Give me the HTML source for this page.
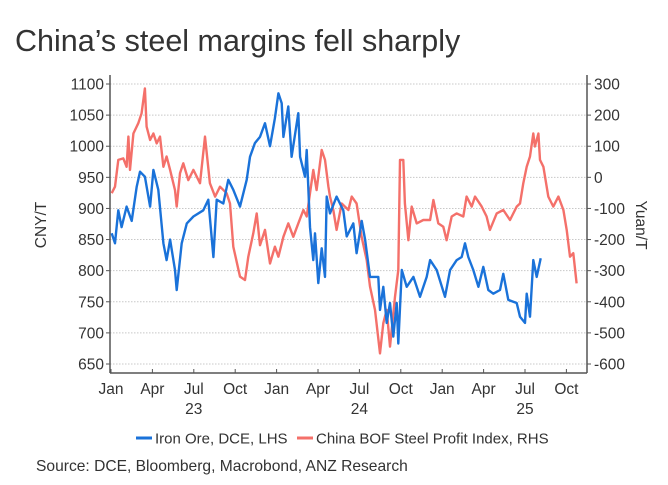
<!DOCTYPE html>
<html><head><meta charset="utf-8"><style>
body{margin:0;background:#fff;width:668px;height:485px;overflow:hidden;font-family:"Liberation Sans",sans-serif}
svg{display:block}
text{font-family:"Liberation Sans",sans-serif;fill:#333}
</style></head><body>
<svg id="c" width="668" height="485">
<text x="15" y="51" font-size="30.5" fill="#333">China’s steel margins fell sharply</text>
<text x="36" y="471" font-size="15.6">Source: DCE, Bloomberg, Macrobond, ANZ Research</text>
</svg>
<script>
const leftTicks=[650,700,750,800,850,900,950,1000,1050,1100];
const rightTicks=[-600,-500,-400,-300,-200,-100,0,100,200,300];
const xTickLabels=["Jan","Apr","Jul","Oct","Jan","Apr","Jul","Oct","Jan","Apr","Jul","Oct"];
const yearLabels=["23","24","25"];
const oreMonths=[0.05,0.29,0.53,0.77,1.13,1.5,1.86,2.1,2.46,2.83,3.07,3.43,3.8,4.03,4.28,4.64,4.76,5.12,5.49,5.97,6.69,7.05,7.42,7.66,8.14,8.5,8.86,9.35,9.83,10.07,10.43,10.8,11.16,11.52,11.88,12.13,12.37,12.49,12.85,13.09,13.57,13.7,14.06,14.18,14.42,14.66,14.78,15.02,15.27,15.51,15.63,15.87,16.35,16.83,17.08,17.56,17.8,18.17,18.41,18.77,19.01,19.37,19.49,19.73,19.98,20.22,20.46,20.7,20.82,21.07,21.43,21.91,22.39,22.88,23.12,23.6,24.2,24.57,25.05,25.41,25.65,25.89,26.25,26.62,26.98,27.34,27.7,28.19,28.43,28.79,29.4,29.64,30,30.12,30.36,30.6,30.85,31.14];
const oreValues=[860,844,897,870,903,880,935,959,951,903,962,930,844,817,850,801,769,844,876,887,897,914,822,914,908,946,930,903,946,983,1005,1015,1037,1000,1045,1085,1069,1015,1064,983,1053,983,951,994,870,817,860,780,836,790,919,892,919,897,855,876,828,880,850,790,790,790,737,774,716,748,694,748,683,801,774,790,758,790,817,801,758,801,817,822,844,822,801,774,806,769,763,769,795,753,748,726,716,763,726,817,790,820];
const profitMonths=[0.05,0.29,0.53,0.89,1.13,1.26,1.38,1.62,1.98,2.22,2.46,2.58,2.83,3.07,3.31,3.55,3.8,4.03,4.28,4.64,4.76,5,5.24,5.6,5.97,6.45,6.81,7.17,7.54,7.9,8.38,8.62,8.86,9.35,9.71,9.95,10.31,10.56,10.8,11.16,11.52,11.88,12.13,12.49,12.85,13.21,13.57,13.94,14.18,14.42,14.66,14.9,15.27,15.51,15.75,15.87,16.11,16.35,16.72,17.2,17.44,17.8,18.16,18.53,18.77,19.13,19.49,19.73,19.98,20.22,20.58,20.82,20.94,21.18,21.3,21.55,21.79,22.15,22.63,23.12,23.36,23.72,24.08,24.32,24.69,25.05,25.53,25.77,26.14,26.38,26.86,27.22,27.46,27.95,28.43,28.91,29.4,29.64,29.88,30.12,30.36,30.6,30.72,30.97,31.09,31.33,31.69,32.05,32.42,32.78,33.02,33.26,33.5,33.74];
const profitValues=[-51,-30,56,61,34,131,24,141,174,206,286,163,120,141,109,131,34,67,24,-41,-94,13,45,-9,24,-19,131,-19,-62,-30,-51,-84,-223,-319,-330,-255,-180,-116,-218,-169,-277,-223,-255,-191,-148,-191,-148,-105,-126,-51,24,-41,88,56,-30,-62,-105,-169,-84,-105,-62,-84,-191,-266,-351,-426,-566,-469,-426,-544,-384,-298,56,56,-84,-202,-94,-148,-137,-137,-73,-148,-159,-202,-126,-116,-126,-62,-94,-62,-94,-126,-169,-116,-105,-137,-94,-84,-19,34,67,141,99,141,56,34,-62,-94,-62,-105,-169,-255,-244,-341];

const NS="http://www.w3.org/2000/svg";
const svg=document.getElementById('c');
const X0=111,PXM=13.8,L=110,R=587,TOP=84,BOT=364,AXB=373;
const xs=m=>X0+m*PXM;
const yl=v=>BOT-(v-650)/450*(BOT-TOP);
const yr=v=>BOT-(v+600)/900*(BOT-TOP);
function mk(tag,attrs,parent){const e=document.createElementNS(NS,tag);for(const k in attrs)e.setAttribute(k,attrs[k]);(parent||svg).appendChild(e);return e;}
const grid=mk('g',{});


leftTicks.forEach(v=>{
 mk('line',{x1:L,x2:R,y1:yl(v),y2:yl(v),stroke:'#c8c8c8','stroke-dasharray':'1.5,1.5'},grid);
 const t=mk('text',{x:L-6,y:yl(v)+5.5,'text-anchor':'end','font-size':'15.5'});
 t.textContent=v;
 
 
 mk('line',{x1:L-4,x2:L,y1:yl(v),y2:yl(v),stroke:'#555'});
});
rightTicks.forEach(v=>{
 const t=mk('text',{x:R+7,y:yr(v)+5.5,'text-anchor':'start','font-size':'15.5'});
 t.textContent=(v<0?'-':'')+Math.abs(v);
 
 
 mk('line',{x1:R,x2:R+4,y1:yr(v),y2:yr(v),stroke:'#555'});
});
const ax=mk('g',{stroke:'#555','stroke-width':1.5});


mk('line',{x1:L,x2:L,y1:75,y2:AXB},ax);
mk('line',{x1:R,x2:R,y1:75,y2:AXB},ax);
mk('line',{x1:L,x2:R,y1:AXB,y2:AXB},ax);
xTickLabels.forEach((s,i)=>{
 const x=xs(i*3);
 mk('line',{x1:x,x2:x,y1:AXB,y2:AXB-4,stroke:'#555'});
 const t=mk('text',{x:x,y:394,'text-anchor':'middle','font-size':'15.5'});
 t.textContent=s;
 
 
});
yearLabels.forEach((s,i)=>{
 const t=mk('text',{x:xs(6+i*12),y:414,'text-anchor':'middle','font-size':'15.5'});
 t.textContent=s;
 
 
});
let t=mk('text',{x:0,y:0,transform:'translate(46,225) rotate(-90)','text-anchor':'middle','font-size':'15.5'});
t.textContent='CNY/T';


t=mk('text',{x:0,y:0,transform:'translate(636,225) rotate(90)','text-anchor':'middle','font-size':'15.5'});
t.textContent='Yuan/T';


function line(ms,vs,yf,col,name){
 const d=ms.map((m,i)=>(i?'L':'M')+xs(m).toFixed(1)+','+yf(vs[i]).toFixed(1)).join('');
 const p=mk('path',{d:d,fill:'none',stroke:col,'stroke-width':2.4,'stroke-linejoin':'round'});
 
 
}
line(profitMonths,profitValues,yr,'#f4706a','steel-profit-line');
line(oreMonths,oreValues,yl,'#1a72d9','iron-ore-line');
const lg=mk('g',{});


mk('line',{x1:136,x2:152,y1:438,y2:438,stroke:'#1a72d9','stroke-width':3},lg);
t=mk('text',{x:155,y:443.5,'font-size':'15'},lg);
t.textContent='Iron Ore, DCE, LHS';


mk('line',{x1:297,x2:313,y1:438,y2:438,stroke:'#f4706a','stroke-width':3},lg);
t=mk('text',{x:316,y:443.5,'font-size':'15'},lg);
t.textContent='China BOF Steel Profit Index, RHS';


</script>
</body></html>
